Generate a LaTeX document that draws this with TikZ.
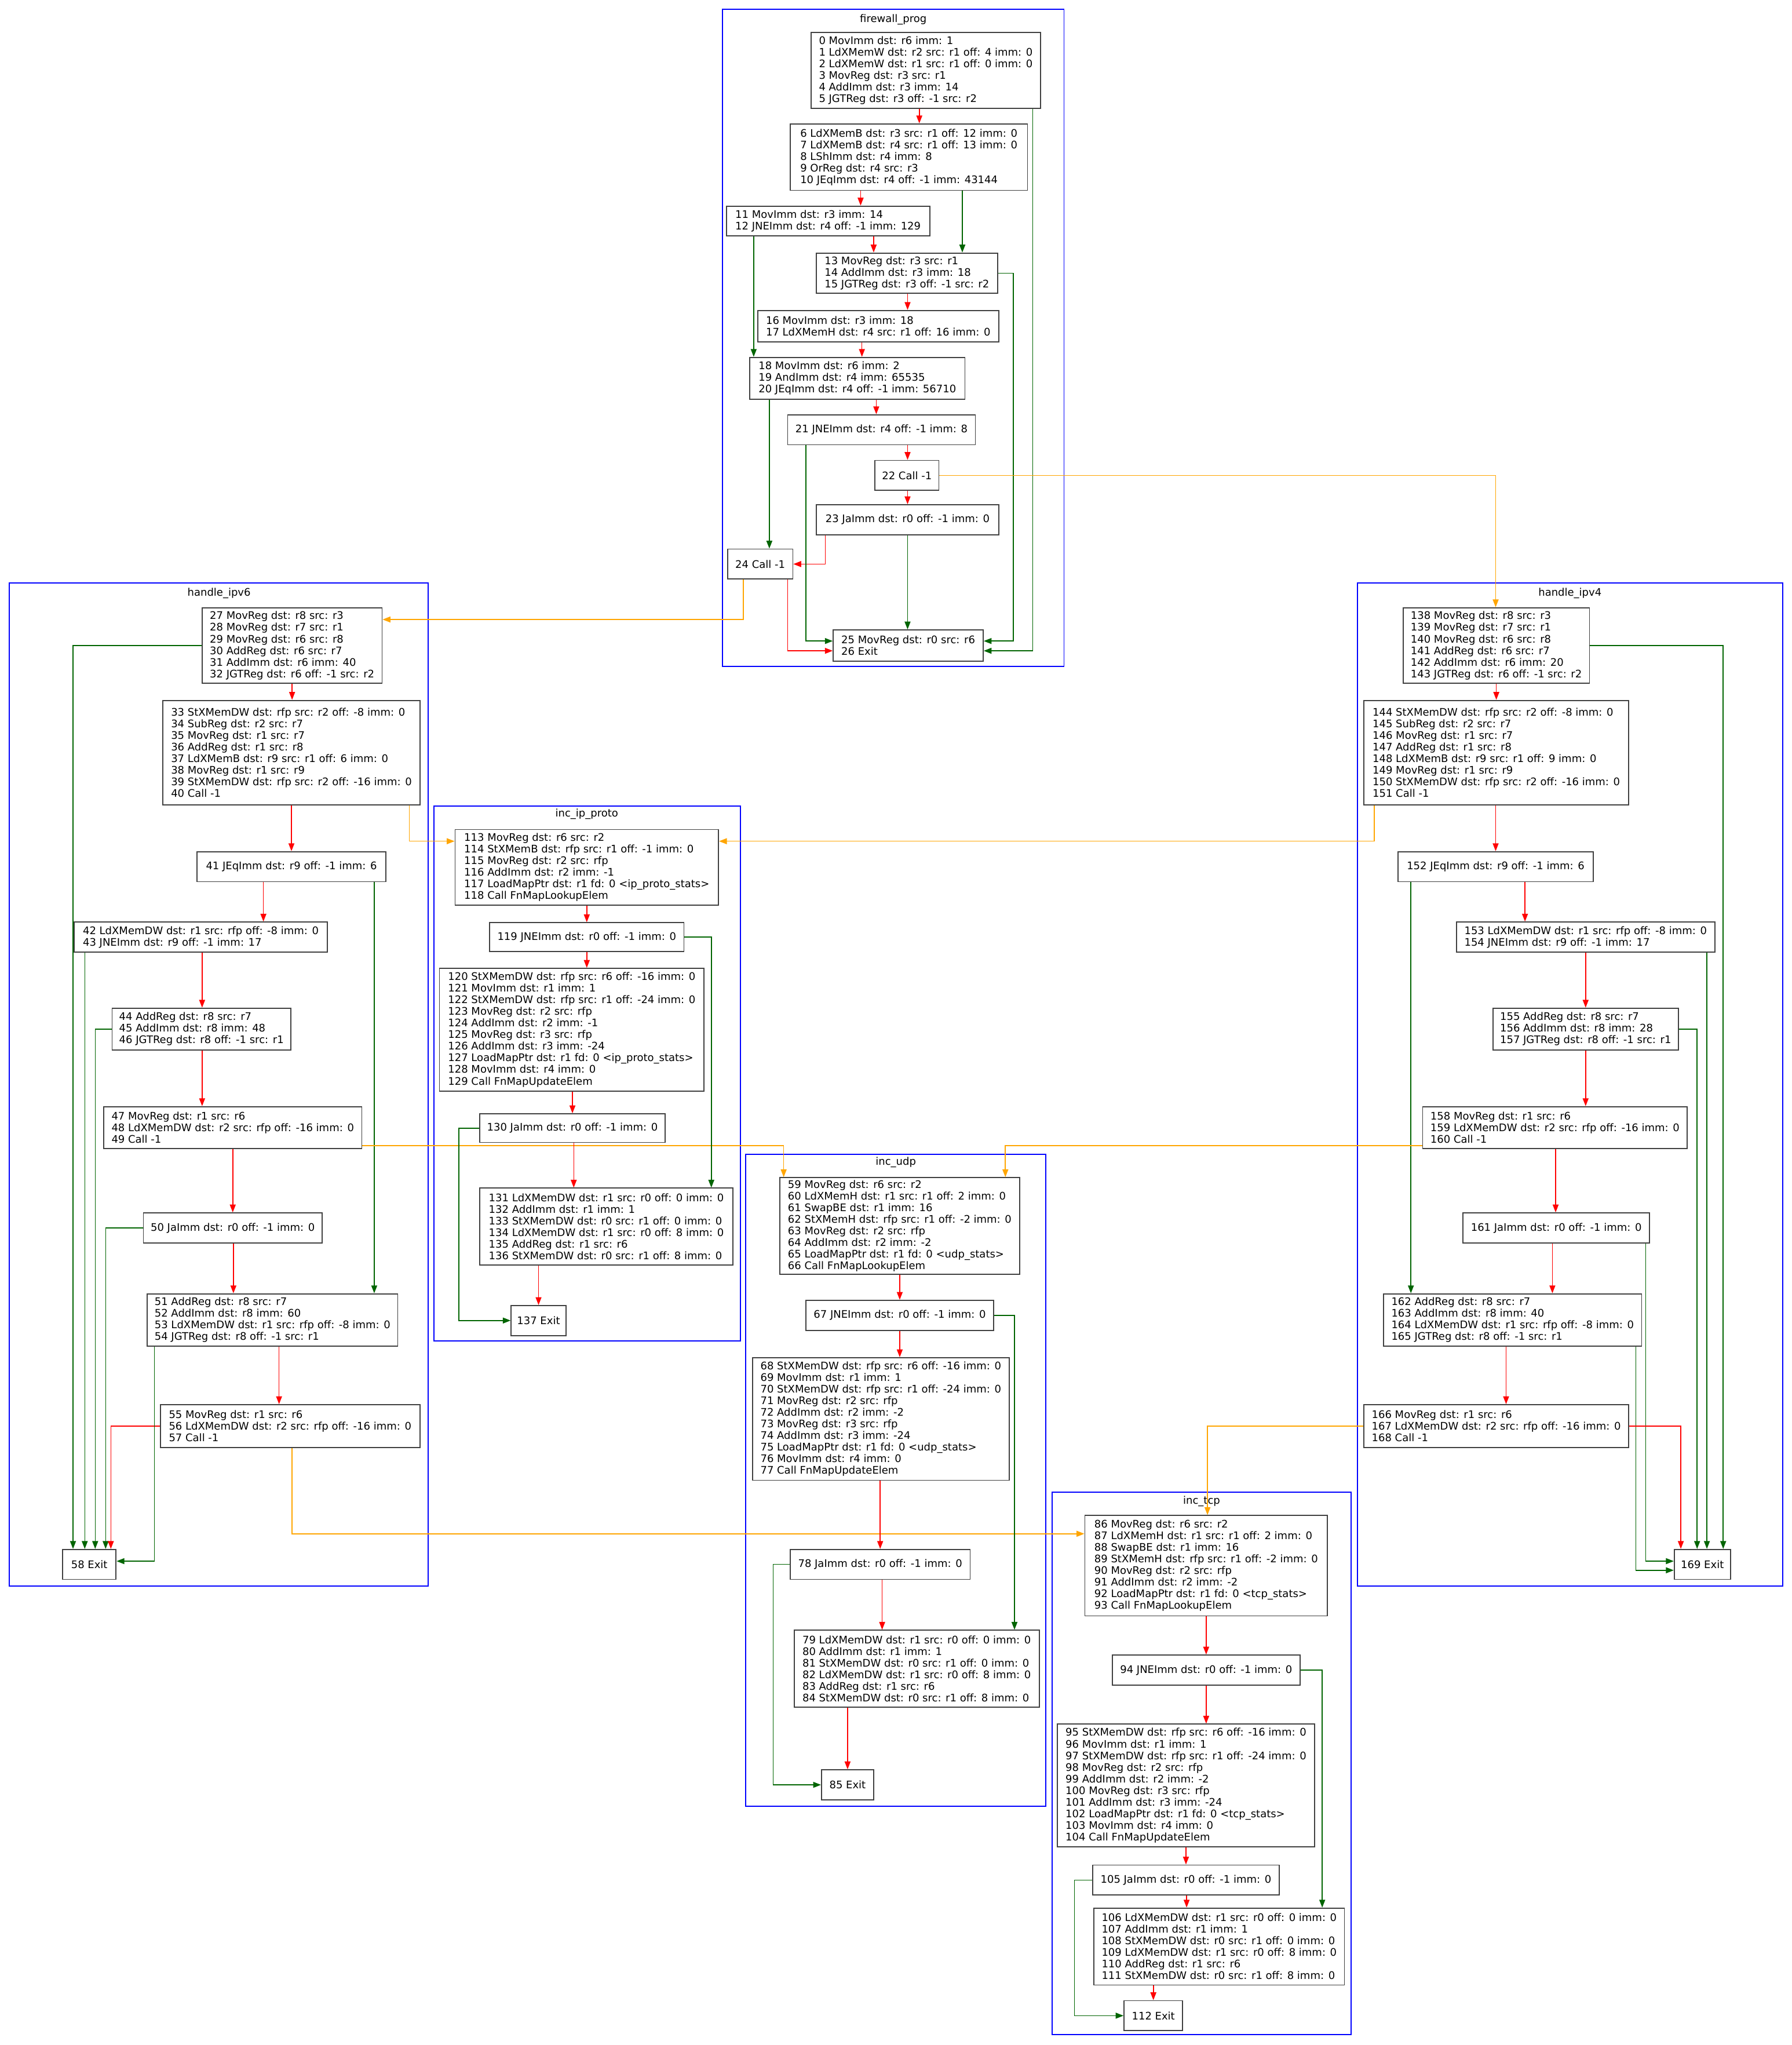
\documentclass[tikz,border=0pt]{standalone}
\usepackage{fontspec}
\usepackage{xcolor}
\usepackage{tikz}
\usetikzlibrary{arrows.meta}
\newfontfamily\dvs{DejaVu Sans}
\definecolor{jmpgreen}{RGB}{0,100,0}
\definecolor{callorange}{RGB}{255,165,0}

\begin{document}
\begin{tikzpicture}[x=1pt, y=-1pt,
  insn/.style={rectangle, draw=black!75, fill=white, line width=0.8pt,
               align=left, inner sep=2pt, font=\dvs\fontsize{8}{8.9}\selectfont},
  cluster/.style={draw=blue, line width=0.8pt},
  ctitle/.style={font=\dvs\fontsize{8}{8.9}\selectfont, inner sep=0pt},
  seq/.style={-{Triangle[length=6pt,width=4.5pt]}, red, line width=0.7pt},
  branch/.style={-{Triangle[length=6pt,width=4.5pt]}, jmpgreen, line width=0.7pt},
  callarr/.style={-{Triangle[length=6pt,width=4.5pt]}, callorange, line width=0.7pt}
]
\useasboundingbox (0,0) rectangle (1374,1568);

% clusters
\draw[cluster] (554,7) rectangle (816,511);
\node[ctitle] (tfw) at (685,15) {firewall\_prog};
\draw[cluster] (7,447) rectangle (328.5,1216);
\node[ctitle] (tv6) at (168,455) {handle\_ipv6};
\draw[cluster] (1041,447) rectangle (1367,1216);
\node[ctitle] (tv4) at (1204,455) {handle\_ipv4};
\draw[cluster] (332.7,618) rectangle (568,1028);
\node[ctitle] (tip) at (450,624) {inc\_ip\_proto};
\draw[cluster] (572,885) rectangle (802,1385);
\node[ctitle] (tudp) at (687,891) {inc\_udp};
\draw[cluster] (807,1144) rectangle (1036,1560);
\node[ctitle] (ttcp) at (921.5,1151) {inc\_tcp};

% firewall_prog
\node[insn, minimum width=176, minimum height=58] (n0) at (710,54)
  {0 MovImm dst: r6 imm: 1\\1 LdXMemW dst: r2 src: r1 off: 4 imm: 0\\2 LdXMemW dst: r1 src: r1 off: 0 imm: 0\\3 MovReg dst: r3 src: r1\\4 AddImm dst: r3 imm: 14\\5 JGTReg dst: r3 off: -1 src: r2};
\node[insn, minimum width=182, minimum height=51] (n6) at (697,120.5)
  {6 LdXMemB dst: r3 src: r1 off: 12 imm: 0\\7 LdXMemB dst: r4 src: r1 off: 13 imm: 0\\8 LShImm dst: r4 imm: 8\\9 OrReg dst: r4 src: r3\\10 JEqImm dst: r4 off: -1 imm: 43144};
\node[insn, minimum width=156, minimum height=23] (n11) at (635,169.5)
  {11 MovImm dst: r3 imm: 14\\12 JNEImm dst: r4 off: -1 imm: 129};
\node[insn, minimum width=139, minimum height=31] (n13) at (695.5,209.5)
  {13 MovReg dst: r3 src: r1\\14 AddImm dst: r3 imm: 18\\15 JGTReg dst: r3 off: -1 src: r2};
\node[insn, minimum width=185, minimum height=24] (n16) at (673.5,250)
  {16 MovImm dst: r3 imm: 18\\17 LdXMemH dst: r4 src: r1 off: 16 imm: 0};
\node[insn, minimum width=165, minimum height=32] (n18) at (657.5,290)
  {18 MovImm dst: r6 imm: 2\\19 AndImm dst: r4 imm: 65535\\20 JEqImm dst: r4 off: -1 imm: 56710};
\node[insn, minimum width=144, minimum height=23] (n21) at (676,329.5)
  {21 JNEImm dst: r4 off: -1 imm: 8};
\node[insn, minimum width=49, minimum height=23] (n22) at (695.5,364.5) {22 Call -1};
\node[insn, minimum width=140, minimum height=23] (n23) at (696,398.5)
  {23 JaImm dst: r0 off: -1 imm: 0};
\node[insn, minimum width=50, minimum height=23] (n24) at (583,432.5) {24 Call -1};
\node[insn, minimum width=115, minimum height=24] (n25) at (696.5,495)
  {25 MovReg dst: r0 src: r6\\26 Exit};

% handle_ipv6
\node[insn, minimum width=138, minimum height=58] (n27) at (224,495)
  {27 MovReg dst: r8 src: r3\\28 MovReg dst: r7 src: r1\\29 MovReg dst: r6 src: r8\\30 AddReg dst: r6 src: r7\\31 AddImm dst: r6 imm: 40\\32 JGTReg dst: r6 off: -1 src: r2};
\node[insn, minimum width=197, minimum height=80] (n33) at (223.5,577)
  {33 StXMemDW dst: rfp src: r2 off: -8 imm: 0\\34 SubReg dst: r2 src: r7\\35 MovReg dst: r1 src: r7\\36 AddReg dst: r1 src: r8\\37 LdXMemB dst: r9 src: r1 off: 6 imm: 0\\38 MovReg dst: r1 src: r9\\39 StXMemDW dst: rfp src: r2 off: -16 imm: 0\\40 Call -1};
\node[insn, minimum width=145, minimum height=23] (n41) at (223.5,664.5)
  {41 JEqImm dst: r9 off: -1 imm: 6};
\node[insn, minimum width=194, minimum height=23] (n42) at (154,718.5)
  {42 LdXMemDW dst: r1 src: rfp off: -8 imm: 0\\43 JNEImm dst: r9 off: -1 imm: 17};
\node[insn, minimum width=137, minimum height=32] (n44) at (154.5,789)
  {44 AddReg dst: r8 src: r7\\45 AddImm dst: r8 imm: 48\\46 JGTReg dst: r8 off: -1 src: r1};
\node[insn, minimum width=198, minimum height=32] (n47) at (178.5,864.5)
  {47 MovReg dst: r1 src: r6\\48 LdXMemDW dst: r2 src: rfp off: -16 imm: 0\\49 Call -1};
\node[insn, minimum width=137, minimum height=23] (n50) at (178.5,941.5)
  {50 JaImm dst: r0 off: -1 imm: 0};
\node[insn, minimum width=192, minimum height=40] (n51) at (209,1012)
  {51 AddReg dst: r8 src: r7\\52 AddImm dst: r8 imm: 60\\53 LdXMemDW dst: r1 src: rfp off: -8 imm: 0\\54 JGTReg dst: r8 off: -1 src: r1};
\node[insn, minimum width=199, minimum height=33] (n55) at (222.5,1093.5)
  {55 MovReg dst: r1 src: r6\\56 LdXMemDW dst: r2 src: rfp off: -16 imm: 0\\57 Call -1};
\node[insn, minimum width=41, minimum height=23] (n58) at (68.5,1199.5) {58 Exit};

% handle_ipv4
\node[insn, minimum width=143, minimum height=58] (n138) at (1147.5,495)
  {138 MovReg dst: r8 src: r3\\139 MovReg dst: r7 src: r1\\140 MovReg dst: r6 src: r8\\141 AddReg dst: r6 src: r7\\142 AddImm dst: r6 imm: 20\\143 JGTReg dst: r6 off: -1 src: r2};
\node[insn, minimum width=203, minimum height=80] (n144) at (1147.5,577)
  {144 StXMemDW dst: rfp src: r2 off: -8 imm: 0\\145 SubReg dst: r2 src: r7\\146 MovReg dst: r1 src: r7\\147 AddReg dst: r1 src: r8\\148 LdXMemB dst: r9 src: r1 off: 9 imm: 0\\149 MovReg dst: r1 src: r9\\150 StXMemDW dst: rfp src: r2 off: -16 imm: 0\\151 Call -1};
\node[insn, minimum width=150, minimum height=23] (n152) at (1147,664.5)
  {152 JEqImm dst: r9 off: -1 imm: 6};
\node[insn, minimum width=198, minimum height=23] (n153) at (1216,718.5)
  {153 LdXMemDW dst: r1 src: rfp off: -8 imm: 0\\154 JNEImm dst: r9 off: -1 imm: 17};
\node[insn, minimum width=142, minimum height=32] (n155) at (1216,789)
  {155 AddReg dst: r8 src: r7\\156 AddImm dst: r8 imm: 28\\157 JGTReg dst: r8 off: -1 src: r1};
\node[insn, minimum width=203, minimum height=32] (n158) at (1192.5,864.5)
  {158 MovReg dst: r1 src: r6\\159 LdXMemDW dst: r2 src: rfp off: -16 imm: 0\\160 Call -1};
\node[insn, minimum width=143, minimum height=23] (n161) at (1193.5,941.5)
  {161 JaImm dst: r0 off: -1 imm: 0};
\node[insn, minimum width=198, minimum height=40] (n162) at (1160,1012)
  {162 AddReg dst: r8 src: r7\\163 AddImm dst: r8 imm: 40\\164 LdXMemDW dst: r1 src: rfp off: -8 imm: 0\\165 JGTReg dst: r8 off: -1 src: r1};
\node[insn, minimum width=203, minimum height=33] (n166) at (1147.5,1093.5)
  {166 MovReg dst: r1 src: r6\\167 LdXMemDW dst: r2 src: rfp off: -16 imm: 0\\168 Call -1};
\node[insn, minimum width=43, minimum height=23] (n169) at (1305.5,1199.5) {169 Exit};

% inc_ip_proto
\node[insn, minimum width=202, minimum height=58] (n113) at (450,665)
  {113 MovReg dst: r6 src: r2\\114 StXMemB dst: rfp src: r1 off: -1 imm: 0\\115 MovReg dst: r2 src: rfp\\116 AddImm dst: r2 imm: -1\\117 LoadMapPtr dst: r1 fd: 0 <ip\_proto\_stats>\\118 Call FnMapLookupElem};
\node[insn, minimum width=149, minimum height=22] (n119) at (450,718.5)
  {119 JNEImm dst: r0 off: -1 imm: 0};
\node[insn, minimum width=203, minimum height=94] (n120) at (438.5,789.5)
  {120 StXMemDW dst: rfp src: r6 off: -16 imm: 0\\121 MovImm dst: r1 imm: 1\\122 StXMemDW dst: rfp src: r1 off: -24 imm: 0\\123 MovReg dst: r2 src: rfp\\124 AddImm dst: r2 imm: -1\\125 MovReg dst: r3 src: rfp\\126 AddImm dst: r3 imm: -24\\127 LoadMapPtr dst: r1 fd: 0 <ip\_proto\_stats>\\128 MovImm dst: r4 imm: 0\\129 Call FnMapUpdateElem};
\node[insn, minimum width=142, minimum height=22] (n130) at (439,865)
  {130 JaImm dst: r0 off: -1 imm: 0};
\node[insn, minimum width=194, minimum height=59] (n131) at (465,940.5)
  {131 LdXMemDW dst: r1 src: r0 off: 0 imm: 0\\132 AddImm dst: r1 imm: 1\\133 StXMemDW dst: r0 src: r1 off: 0 imm: 0\\134 LdXMemDW dst: r1 src: r0 off: 8 imm: 0\\135 AddReg dst: r1 src: r6\\136 StXMemDW dst: r0 src: r1 off: 8 imm: 0};
\node[insn, minimum width=42, minimum height=23] (n137) at (413,1012.5) {137 Exit};

% inc_udp
\node[insn, minimum width=184, minimum height=74] (n59) at (690,940)
  {59 MovReg dst: r6 src: r2\\60 LdXMemH dst: r1 src: r1 off: 2 imm: 0\\61 SwapBE dst: r1 imm: 16\\62 StXMemH dst: rfp src: r1 off: -2 imm: 0\\63 MovReg dst: r2 src: rfp\\64 AddImm dst: r2 imm: -2\\65 LoadMapPtr dst: r1 fd: 0 <udp\_stats>\\66 Call FnMapLookupElem};
\node[insn, minimum width=144, minimum height=23] (n67) at (690,1008.5)
  {67 JNEImm dst: r0 off: -1 imm: 0};
\node[insn, minimum width=197, minimum height=94] (n68) at (675.5,1088)
  {68 StXMemDW dst: rfp src: r6 off: -16 imm: 0\\69 MovImm dst: r1 imm: 1\\70 StXMemDW dst: rfp src: r1 off: -24 imm: 0\\71 MovReg dst: r2 src: rfp\\72 AddImm dst: r2 imm: -2\\73 MovReg dst: r3 src: rfp\\74 AddImm dst: r3 imm: -24\\75 LoadMapPtr dst: r1 fd: 0 <udp\_stats>\\76 MovImm dst: r4 imm: 0\\77 Call FnMapUpdateElem};
\node[insn, minimum width=138, minimum height=23] (n78) at (675,1199.5)
  {78 JaImm dst: r0 off: -1 imm: 0};
\node[insn, minimum width=188, minimum height=59] (n79) at (703,1279.5)
  {79 LdXMemDW dst: r1 src: r0 off: 0 imm: 0\\80 AddImm dst: r1 imm: 1\\81 StXMemDW dst: r0 src: r1 off: 0 imm: 0\\82 LdXMemDW dst: r1 src: r0 off: 8 imm: 0\\83 AddReg dst: r1 src: r6\\84 StXMemDW dst: r0 src: r1 off: 8 imm: 0};
\node[insn, minimum width=40, minimum height=23] (n85) at (650,1368.5) {85 Exit};

% inc_tcp
\node[insn, minimum width=186, minimum height=77] (n86) at (925,1200.5)
  {86 MovReg dst: r6 src: r2\\87 LdXMemH dst: r1 src: r1 off: 2 imm: 0\\88 SwapBE dst: r1 imm: 16\\89 StXMemH dst: rfp src: r1 off: -2 imm: 0\\90 MovReg dst: r2 src: rfp\\91 AddImm dst: r2 imm: -2\\92 LoadMapPtr dst: r1 fd: 0 <tcp\_stats>\\93 Call FnMapLookupElem};
\node[insn, minimum width=144, minimum height=23] (n94) at (925,1280.5)
  {94 JNEImm dst: r0 off: -1 imm: 0};
\node[insn, minimum width=197, minimum height=94] (n95) at (909.5,1369)
  {95 StXMemDW dst: rfp src: r6 off: -16 imm: 0\\96 MovImm dst: r1 imm: 1\\97 StXMemDW dst: rfp src: r1 off: -24 imm: 0\\98 MovReg dst: r2 src: rfp\\99 AddImm dst: r2 imm: -2\\100 MovReg dst: r3 src: rfp\\101 AddImm dst: r3 imm: -24\\102 LoadMapPtr dst: r1 fd: 0 <tcp\_stats>\\103 MovImm dst: r4 imm: 0\\104 Call FnMapUpdateElem};
\node[insn, minimum width=143, minimum height=23] (n105) at (909.5,1441.5)
  {105 JaImm dst: r0 off: -1 imm: 0};
\node[insn, minimum width=192, minimum height=59] (n106) at (935,1492.5)
  {106 LdXMemDW dst: r1 src: r0 off: 0 imm: 0\\107 AddImm dst: r1 imm: 1\\108 StXMemDW dst: r0 src: r1 off: 0 imm: 0\\109 LdXMemDW dst: r1 src: r0 off: 8 imm: 0\\110 AddReg dst: r1 src: r6\\111 StXMemDW dst: r0 src: r1 off: 8 imm: 0};
\node[insn, minimum width=45, minimum height=23] (n112) at (884.5,1545.5) {112 Exit};

% firewall_prog edges
\draw[seq] (n0.south -| 705,0) -- (n6.north -| 705,0);
\draw[seq] (n6.south -| 660,0) -- (n11.north -| 660,0);
\draw[branch] (n6.south -| 738,0) -- (n13.north -| 738,0);
\draw[seq] (n11.south -| 670,0) -- (n13.north -| 670,0);
\draw[branch] (n11.south -| 578,0) -- (n18.north -| 578,0);
\draw[seq] (n13.south -| 696,0) -- (n16.north -| 696,0);
\draw[seq] (n16.south -| 661,0) -- (n18.north -| 661,0);
\draw[seq] (n18.south -| 672,0) -- (n21.north -| 672,0);
\draw[branch] (n18.south -| 590,0) -- (n24.north -| 590,0);
\draw[seq] (n21.south -| 696,0) -- (n22.north -| 696,0);
\draw[seq] (n22.south -| 696,0) -- (n23.north -| 696,0);
\draw[branch] (n23.south -| 696,0) -- (n25.north -| 696,0);
\draw[seq] (n23.south -| 633,0) |- (n24.east);
\draw[branch] (n0.south -| 792,0) |- (n25.east |- 0,499);
\draw[branch] (n13.east) -| (777,491.5) -- (n25.east |- 0,491.5);
\draw[branch] (n21.south -| 618,0) |- (n25.west |- 0,491.5);
\draw[seq] (n24.south -| 604,0) |- (n25.west |- 0,499);
\draw[callarr] (n22.east) -| (n138.north -| 1147,0);
\draw[callarr] (n24.south -| 570,0) |- (n27.east |- 0,475);

% handle_ipv6 edges
\draw[seq] (n27.south -| 224,0) -- (n33.north -| 224,0);
\draw[seq] (n33.south -| 223.5,0) -- (n41.north -| 223.5,0);
\draw[seq] (n41.south -| 202,0) -- (n42.north -| 202,0);
\draw[branch] (n41.south -| 287,0) -- (n51.north -| 287,0);
\draw[seq] (n42.south -| 155,0) -- (n44.north -| 155,0);
\draw[seq] (n44.south -| 155,0) -- (n47.north -| 155,0);
\draw[seq] (n47.south -| 178.5,0) -- (n50.north -| 178.5,0);
\draw[seq] (n50.south -| 179,0) -- (n51.north -| 179,0);
\draw[seq] (n51.south -| 214,0) -- (n55.north -| 214,0);
\draw[branch] (n27.west) -| (n58.north -| 56,0);
\draw[branch] (n42.south -| 65,0) -- (n58.north -| 65,0);
\draw[branch] (n44.west) -| (n58.north -| 73,0);
\draw[branch] (n50.west) -| (n58.north -| 81,0);
\draw[seq] (n55.west) -| (n58.north -| 85,0);
\draw[branch] (n51.south -| 118.5,0) |- (n58.east |- 0,1197);
\draw[callarr] (n33.south -| 314,0) |- (n113.west |- 0,645);
\draw[callarr] (n47.east |- 0,878.5) -| (n59.north -| 601,0);
\draw[callarr] (n55.south -| 224,0) |- (n86.west |- 0,1176);

% handle_ipv4 edges
\draw[seq] (n138.south -| 1147.5,0) -- (n144.north -| 1147.5,0);
\draw[seq] (n144.south -| 1147,0) -- (n152.north -| 1147,0);
\draw[seq] (n152.south -| 1169.5,0) -- (n153.north -| 1169.5,0);
\draw[branch] (n152.south -| 1082,0) -- (n162.north -| 1082,0);
\draw[seq] (n153.south -| 1216,0) -- (n155.north -| 1216,0);
\draw[seq] (n155.south -| 1216,0) -- (n158.north -| 1216,0);
\draw[seq] (n158.south -| 1193,0) -- (n161.north -| 1193,0);
\draw[seq] (n161.south -| 1190.5,0) -- (n162.north -| 1190.5,0);
\draw[seq] (n162.south -| 1155,0) -- (n166.north -| 1155,0);
\draw[branch] (n138.east) -| (n169.north -| 1321.5,0);
\draw[branch] (n153.south -| 1309,0) -- (n169.north -| 1309,0);
\draw[branch] (n155.east) -| (n169.north -| 1301.5,0);
\draw[branch] (n161.south -| 1262,0) |- (n169.west |- 0,1197);
\draw[branch] (n162.south -| 1254.5,0) |- (n169.west |- 0,1204);
\draw[seq] (n166.east) -| (n169.north -| 1289,0);
\draw[callarr] (n144.south -| 1054,0) |- (n113.east |- 0,645);
\draw[callarr] (n158.west |- 0,878.5) -| (n59.north -| 771,0);
\draw[callarr] (n166.west) -| (n86.north -| 926,0);

% inc_ip_proto edges
\draw[seq] (n113.south -| 450,0) -- (n119.north -| 450,0);
\draw[seq] (n119.south -| 450,0) -- (n120.north -| 450,0);
\draw[branch] (n119.east) -| (n131.north -| 545.5,0);
\draw[seq] (n120.south -| 439,0) -- (n130.north -| 439,0);
\draw[seq] (n130.south -| 440,0) -- (n131.north -| 440,0);
\draw[branch] (n130.west) -| (352,0 |- n137.west) -- (n137.west);
\draw[seq] (n131.south -| 413,0) -- (n137.north -| 413,0);

% inc_udp edges
\draw[seq] (n59.south -| 690,0) -- (n67.north -| 690,0);
\draw[seq] (n67.south -| 690,0) -- (n68.north -| 690,0);
\draw[branch] (n67.east) -| (n79.north -| 778,0);
\draw[seq] (n68.south -| 675,0) -- (n78.north -| 675,0);
\draw[seq] (n78.south -| 676.5,0) -- (n79.north -| 676.5,0);
\draw[branch] (n78.west) -| (593,0 |- n85.west) -- (n85.west);
\draw[seq] (n79.south -| 650,0) -- (n85.north -| 650,0);

% inc_tcp edges
\draw[seq] (n86.south -| 925,0) -- (n94.north -| 925,0);
\draw[seq] (n94.south -| 925,0) -- (n95.north -| 925,0);
\draw[branch] (n94.east) -| (n106.north -| 1014,0);
\draw[seq] (n95.south -| 909.5,0) -- (n105.north -| 909.5,0);
\draw[seq] (n105.south -| 910,0) -- (n106.north -| 910,0);
\draw[branch] (n105.west) -| (824,0 |- n112.west) -- (n112.west);
\draw[seq] (n106.south -| 884.5,0) -- (n112.north -| 884.5,0);
\end{tikzpicture}
\end{document}
